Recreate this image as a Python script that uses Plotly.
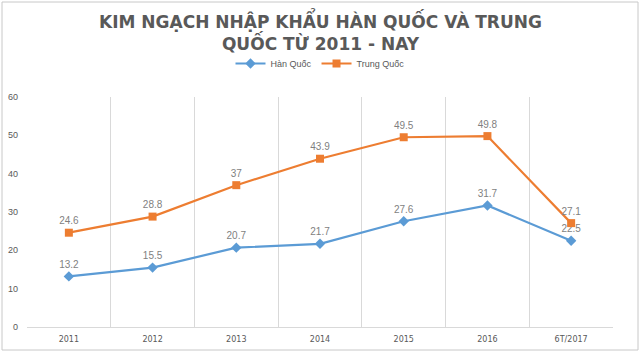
import plotly.graph_objects as go

categories = ["2011", "2012", "2013", "2014", "2015", "2016", "6T/2017"]
han_quoc = [13.2, 15.5, 20.7, 21.7, 27.6, 31.7, 22.5]
trung_quoc = [24.6, 28.8, 37, 43.9, 49.5, 49.8, 27.1]
y_ticks = [0, 10, 20, 30, 40, 50, 60]

W, H = 640, 352
L, R, T, B = 27, 27, 97, 25

fig = go.Figure()
fig.add_trace(go.Scatter(
    x=categories, y=han_quoc, name="Hàn Quốc", mode="lines+markers+text",
    line=dict(color="#5B9BD5", width=2.2),
    marker=dict(symbol="diamond", size=8, color="#5B9BD5"),
    text=[str(v) for v in han_quoc], textposition="top center",
    textfont=dict(size=10, color="#7f7f7f", family="Liberation Sans"),
    cliponaxis=False,
))
fig.add_trace(go.Scatter(
    x=categories, y=trung_quoc, name="Trung Quốc", mode="lines+markers+text",
    line=dict(color="#ED7D31", width=2.2),
    marker=dict(symbol="square", size=8, color="#ED7D31"),
    text=[str(v) for v in trung_quoc], textposition="top center",
    textfont=dict(size=10, color="#7f7f7f", family="Liberation Sans"),
    cliponaxis=False,
))

pw = W - L - R
ph = H - T - B
fig.add_shape(type="rect", xref="paper", yref="paper",
              x0=-(L - 2) / pw, x1=1 + (R - 2) / pw,
              y0=-(B - 2) / ph, y1=1 + (T - 2) / ph,
              line=dict(color="#c8c8c8", width=1), layer="below")

fig.add_annotation(
    text="KIM NGẠCH NHẬP KHẨU HÀN QUỐC VÀ TRUNG<br>QUỐC TỪ 2011 - NAY",
    xref="paper", yref="paper", x=0.5, xanchor="center",
    y=1 + (T - 6) / ph, yanchor="top", showarrow=False,
    font=dict(family="DejaVu Sans", size=17, color="#595959", weight="bold"),
)

fig.update_layout(
    width=W, height=H,
    margin=dict(l=L, r=R, t=T, b=B, autoexpand=False),
    paper_bgcolor="white", plot_bgcolor="white",
    legend=dict(
        orientation="h", x=0.5, xanchor="center", y=1 + (T - 49) / ph, yanchor="top",
        font=dict(size=9, color="#595959", family="Liberation Sans"),
        traceorder="normal",
    ),
    showlegend=True,
    xaxis=dict(
        type="category", tickson="boundaries", showgrid=True, gridcolor="#d9d9d9",
        showline=True, linecolor="#d9d9d9", ticks="", range=[-0.5, 6.5],
        ticklabelstandoff=4, automargin=False,
        tickfont=dict(size=8, color="#595959", family="DejaVu Sans"),
    ),
    yaxis=dict(
        range=[0, 60], tickvals=y_ticks, showgrid=False, zeroline=False,
        showline=False, ticks="", ticklabelstandoff=8, automargin=False,
        tickfont=dict(size=9, color="#595959", family="Liberation Sans"),
    ),
)

fig.write_html("out.html")
